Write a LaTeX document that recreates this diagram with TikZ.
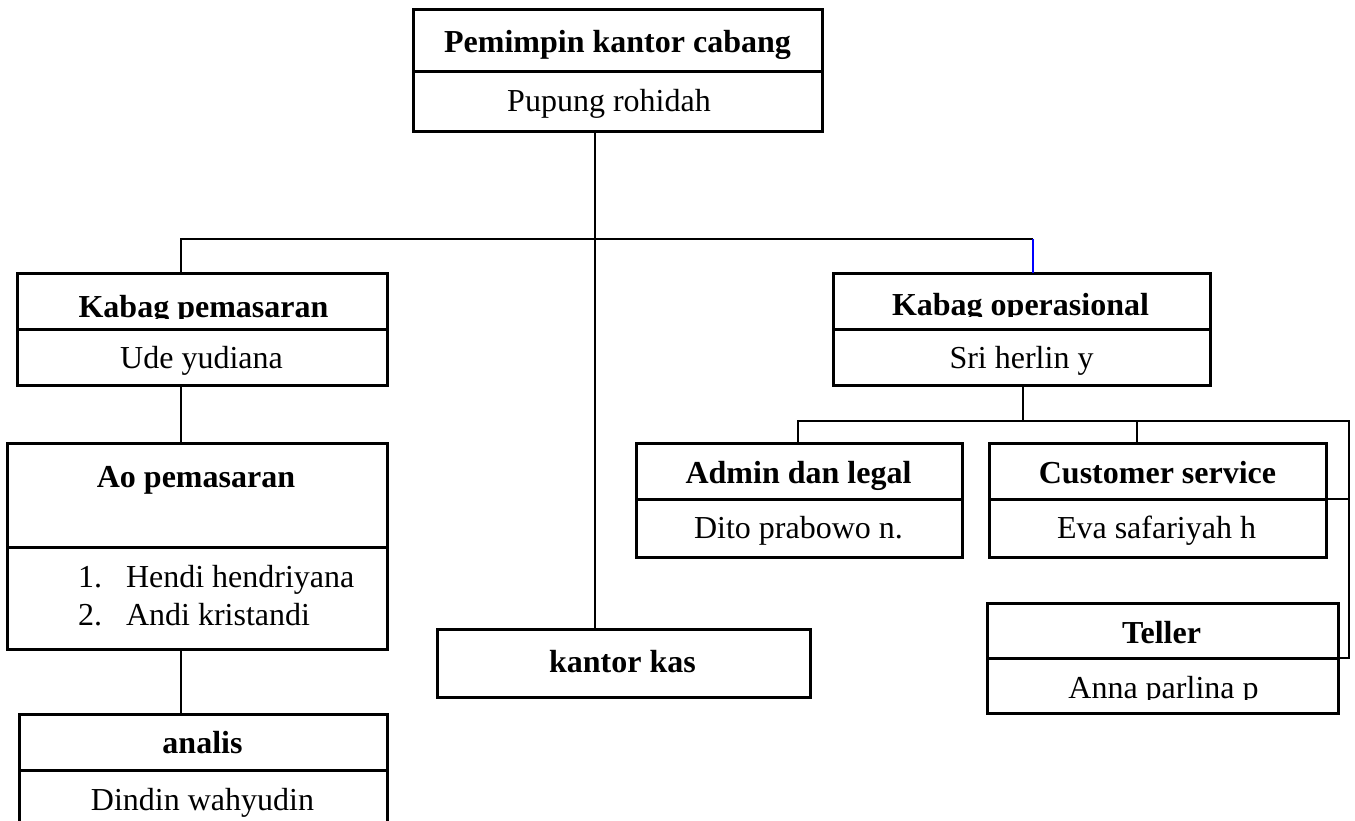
\documentclass[tikz,border=0pt]{standalone}
\usepackage{fontspec}
\setmainfont{Liberation Serif}
\newcommand{\fsz}{\fontsize{32}{38}\selectfont}
\begin{document}
\begin{tikzpicture}[x=1pt,y=-1pt,
  cell/.style={draw, line width=3pt, inner sep=0pt, outer sep=0pt, anchor=north west, fill=white},
  wire/.style={line width=2pt},
  txt/.style={inner sep=0pt, outer sep=0pt, anchor=base, font=\fsz},
  btxt/.style={txt, font=\fsz\bfseries},
  ltxt/.style={txt, anchor=base west}]
\clip (0,0) rectangle (1355,821);
\fill[white] (0,0) rectangle (1355,821);

% ---- junction coordinates ----
\coordinate (jm) at (595,239);
\coordinate (jl) at (181,239);
\coordinate (jr) at (1033,239);
\coordinate (ko) at (1023,421);
\coordinate (ka) at (798,421);
\coordinate (kc) at (1137,421);
\coordinate (kr) at (1349,421);

% ---- boxes ----
\node[cell, minimum width=409pt, minimum height=62pt] (pkcT) at (413,10) {};
\node[cell, minimum width=409pt, minimum height=60pt] (pkcB) at (413,72) {};

\node[cell, minimum width=370pt, minimum height=56pt] (kpT) at (17,273) {};
\node[cell, minimum width=370pt, minimum height=56pt] (kpB) at (17,329) {};

\node[cell, minimum width=377pt, minimum height=56pt] (koT) at (833,273) {};
\node[cell, minimum width=377pt, minimum height=56pt] (koB) at (833,329) {};

\node[cell, minimum width=380pt, minimum height=104pt] (aoT) at (7,443) {};
\node[cell, minimum width=380pt, minimum height=102pt] (aoB) at (7,547) {};

\node[cell, minimum width=368pt, minimum height=56pt] (anT) at (19,714) {};
\node[cell, minimum width=368pt, minimum height=60pt] (anB) at (19,770) {};

\node[cell, minimum width=373pt, minimum height=68pt] (kas) at (437,629) {};

\node[cell, minimum width=326pt, minimum height=56pt] (adT) at (636,443) {};
\node[cell, minimum width=326pt, minimum height=58pt] (adB) at (636,499) {};

\node[cell, minimum width=337pt, minimum height=56pt] (csT) at (989,443) {};
\node[cell, minimum width=337pt, minimum height=58pt] (csB) at (989,499) {};

\node[cell, minimum width=351pt, minimum height=55pt] (tlT) at (987,603) {};
\node[cell, minimum width=351pt, minimum height=55pt] (tlB) at (987,658) {};

% ---- connectors ----
\draw[wire] (jm |- pkcB.south) -- (jm |- kas.north);
\draw[wire] (jl |- kpT.north) -- (jl) -- (jr);
\draw[wire, blue] (jr) -- (jr |- koT.north);
\draw[wire] (jl |- kpB.south) -- (jl |- aoT.north);
\draw[wire] (jl |- aoB.south) -- (jl |- anT.north);
\draw[wire] (ko |- koB.south) -- (ko);
\draw[wire] (ka |- adT.north) -- (ka) -- (kr) -- (kr |- tlB.north) -- (tlB.north east);
\draw[wire] (kc) -- (kc |- csT.north);
\draw[wire] (csB.north east) -- (kr |- csB.north);

% ---- texts ----
\node[btxt] (t1) at (617.5,53) {Pemimpin kantor cabang};
\node[txt] (n1) at (609,112) {Pupung rohidah};

\begin{scope}
\clip (17,273) rectangle (387,318.5);
\node[btxt] (t2) at (203.5,317) {Kabag pemasaran};
\end{scope}
\node[txt] (n2) at (201.5,368) {Ude yudiana};

\begin{scope}
\clip (833,273) rectangle (1210,316.5);
\node[btxt] (t3) at (1020.5,315) {Kabag operasional};
\end{scope}
\node[txt] (n3) at (1021.5,368) {Sri herlin y};

\node[btxt] (t4) at (196,487) {Ao pemasaran};
\node[ltxt] (l1) at (78,587) {1.};
\node[ltxt] (l1b) at (126,587) {Hendi hendriyana};
\node[ltxt] (l2) at (78,625) {2.};
\node[ltxt] (l2b) at (126,625) {Andi kristandi};

\node[btxt] (t5) at (202.5,753) {analis};
\node[txt] (n5) at (202.5,810) {Dindin wahyudin};

\node[btxt] (t6) at (622.5,672) {kantor kas};

\node[btxt] (t7) at (798.5,483) {Admin dan legal};
\node[txt] (n7) at (798.5,538) {Dito prabowo n.};

\node[btxt] (t8) at (1157.5,483) {Customer service};
\node[txt] (n8) at (1156.5,538) {Eva safariyah h};

\node[btxt] (t9) at (1161.5,643) {Teller};
\begin{scope}
\clip (987,658) rectangle (1338,699.5);
\node[txt] (n9) at (1163.5,698) {Anna parlina p};
\end{scope}
\end{tikzpicture}
\end{document}
